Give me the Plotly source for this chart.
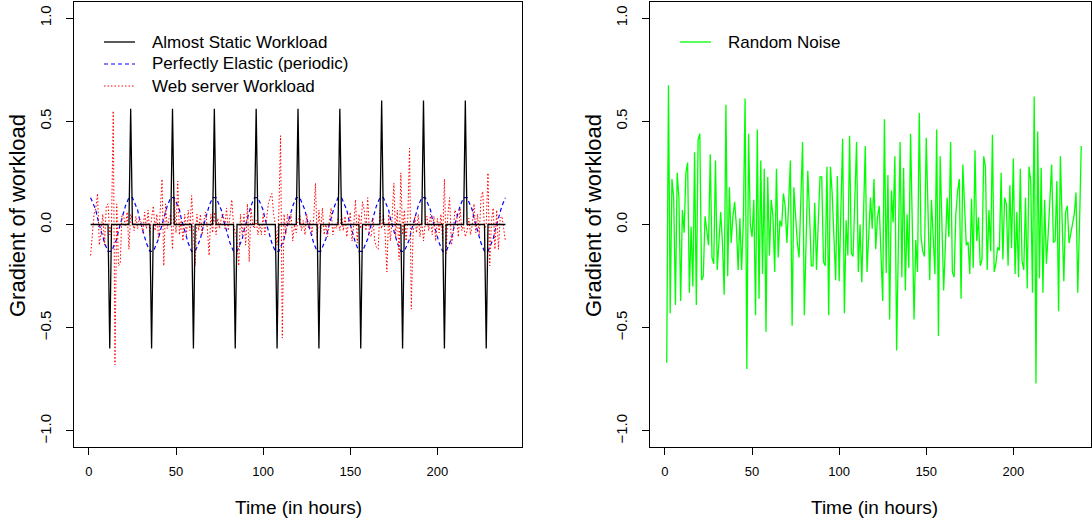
import plotly.graph_objects as go

# ---------------- data ----------------
hours = list(range(1, 240))

# Almost static workload: zero gradient except single-hour spikes
static_spike_hours = [12, 24, 36, 48, 60, 72, 84, 96, 108, 120, 132, 144,
                      156, 168, 180, 192, 204, 216, 228]
static_spike_values = [-0.60, 0.56, -0.60, 0.56, -0.60, 0.56, -0.60, 0.56,
                       -0.60, 0.56, -0.60, 0.56, -0.60, 0.60, -0.60, 0.60,
                       -0.60, 0.60, -0.60]

# Perfectly elastic (periodic), hours 1..239
elastic_values = [
    0.13, 0.11, 0.09, 0.07, 0.03, 0.00, -0.03, -0.07, -0.09, -0.11, -0.13, -0.13, -0.13, -0.11, -0.09, -0.07, -0.03, 0.00, 0.03, 0.07, 0.09, 0.11, 0.13, 0.13,
    0.13, 0.11, 0.09, 0.07, 0.03, 0.00, -0.03, -0.07, -0.09, -0.11, -0.13, -0.13, -0.13, -0.11, -0.09, -0.07, -0.03, 0.00, 0.03, 0.07, 0.09, 0.11, 0.13, 0.13,
    0.13, 0.11, 0.09, 0.07, 0.03, 0.00, -0.03, -0.07, -0.09, -0.11, -0.13, -0.13, -0.13, -0.11, -0.09, -0.07, -0.03, 0.00, 0.03, 0.07, 0.09, 0.11, 0.13, 0.13,
    0.13, 0.11, 0.09, 0.07, 0.03, 0.00, -0.03, -0.07, -0.09, -0.11, -0.13, -0.13, -0.13, -0.11, -0.09, -0.07, -0.03, 0.00, 0.03, 0.07, 0.09, 0.11, 0.13, 0.13,
    0.13, 0.11, 0.09, 0.07, 0.03, 0.00, -0.03, -0.07, -0.09, -0.11, -0.13, -0.13, -0.13, -0.11, -0.09, -0.07, -0.03, 0.00, 0.03, 0.07, 0.09, 0.11, 0.13, 0.13,
    0.13, 0.11, 0.09, 0.07, 0.03, 0.00, -0.03, -0.07, -0.09, -0.11, -0.13, -0.13, -0.13, -0.11, -0.09, -0.07, -0.03, 0.00, 0.03, 0.07, 0.09, 0.11, 0.13, 0.13,
    0.13, 0.11, 0.09, 0.07, 0.03, 0.00, -0.03, -0.07, -0.09, -0.11, -0.13, -0.13, -0.13, -0.11, -0.09, -0.07, -0.03, 0.00, 0.03, 0.07, 0.09, 0.11, 0.13, 0.13,
    0.13, 0.11, 0.09, 0.07, 0.03, 0.00, -0.03, -0.07, -0.09, -0.11, -0.13, -0.13, -0.13, -0.11, -0.09, -0.07, -0.03, 0.00, 0.03, 0.07, 0.09, 0.11, 0.13, 0.13,
    0.13, 0.11, 0.09, 0.07, 0.03, 0.00, -0.03, -0.07, -0.09, -0.11, -0.13, -0.13, -0.13, -0.11, -0.09, -0.07, -0.03, 0.00, 0.03, 0.07, 0.09, 0.11, 0.13, 0.13,
    0.13, 0.11, 0.09, 0.07, 0.03, 0.00, -0.03, -0.07, -0.09, -0.11, -0.13, -0.13, -0.13, -0.11, -0.09, -0.07, -0.03, 0.00, 0.03, 0.07, 0.09, 0.11, 0.13,
]

# Web server workload, hours 1..239
web_values = [
    -0.15, -0.05, 0.05, 0.08, 0.15, -0.10, -0.04, 0.05, -0.10, 0.09, 0.10, -0.05, 0.00, 0.55, -0.68, 0.10, -0.20, -0.19, 0.05, 0.04,
    -0.01, 0.06, -0.12, 0.05, 0.02, -0.03, 0.04, -0.02, 0.03, 0.01, -0.04, 0.06, -0.02, 0.07, -0.05, 0.03, 0.09, -0.03, 0.05, -0.07,
    0.08, 0.22, -0.20, 0.10, -0.02, 0.03, 0.05, -0.12, 0.13, -0.04, 0.21, -0.05, 0.02, -0.08, 0.05, -0.05, 0.07, -0.03, 0.14, -0.05,
    -0.20, 0.05, -0.03, 0.05, -0.05, 0.02, 0.06, -0.02, -0.15, 0.05, -0.04, 0.06, -0.05, 0.03, -0.02, 0.03, 0.05, -0.02, 0.08, -0.03,
    0.05, 0.12, 0.00, -0.05, -0.08, -0.20, 0.05, -0.05, 0.05, -0.10, 0.10, -0.18, 0.08, 0.00, -0.02, 0.02, -0.05, 0.00, -0.05, 0.05,
    -0.05, 0.03, 0.10, 0.13, 0.15, 0.05, 0.00, -0.10, 0.05, 0.43, -0.55, 0.05, -0.05, 0.05, 0.00, 0.05, -0.08, 0.00, -0.04, 0.02,
    0.05, -0.03, 0.02, -0.05, 0.05, -0.02, 0.02, -0.05, 0.03, 0.20, -0.08, 0.07, -0.04, 0.08, -0.05, 0.00, -0.06, 0.02, 0.08, -0.05,
    0.00, -0.02, 0.03, -0.03, 0.05, -0.03, 0.04, -0.06, 0.02, 0.06, -0.08, 0.00, 0.12, -0.09, 0.05, -0.02, 0.11, 0.07, -0.03, 0.13,
    -0.05, -0.06, 0.03, -0.08, -0.11, -0.12, 0.07, -0.02, 0.05, -0.05, -0.23, 0.05, -0.08, 0.03, 0.20, -0.06, 0.07, -0.17, 0.25, -0.05,
    0.07, -0.08, 0.03, 0.37, -0.41, -0.05, 0.04, -0.04, 0.05, -0.06, 0.02, -0.08, 0.01, 0.04, -0.03, 0.05, -0.05, 0.04, -0.08, 0.03,
    -0.04, 0.05, -0.08, 0.22, -0.14, 0.05, 0.13, -0.10, -0.05, 0.07, 0.05, -0.06, 0.08, -0.03, 0.00, -0.06, -0.03, 0.03, -0.05, 0.00,
    0.10, -0.04, 0.05, -0.05, 0.13, 0.16, -0.03, 0.00, 0.25, -0.20, 0.02, 0.08, -0.12, 0.07, -0.12, 0.03, 0.04, -0.02, -0.08,
]

# Random noise, hours 1..239
noise_values = [
    -0.67, 0.675, -0.43, 0.22, 0.13, -0.39, 0.25, 0.13, -0.37, 0.07, -0.04, 0.25, 0.30, -0.33, -0.01, -0.30, 0.35, -0.39, 0.41, 0.44,
    -0.27, -0.25, 0.04, -0.03, -0.10, 0.34, -0.16, -0.19, 0.31, -0.22, -0.06, 0.06, -0.09, -0.34, 0.58, -0.25, 0.18, -0.09, 0.04, 0.11,
    -0.01, -0.22, 0.03, -0.22, 0.02, 0.61, -0.70, 0.44, 0.00, -0.06, 0.12, -0.44, 0.46, -0.36, 0.31, -0.24, 0.27, -0.52, 0.23, -0.15,
    0.12, 0.04, -0.23, 0.27, -0.16, 0.02, -0.01, 0.15, 0.09, -0.09, 0.10, 0.31, -0.49, 0.18, 0.04, -0.09, -0.16, 0.12, 0.40, -0.44,
    -0.09, 0.26, 0.05, -0.20, -0.20, 0.105, -0.22, 0.00, 0.23, 0.23, -0.18, -0.20, 0.28, -0.44, 0.28, 0.15, -0.05, -0.27, 0.235, -0.275,
    0.07, 0.415, -0.43, 0.02, -0.15, 0.43, -0.14, -0.155, 0.12, 0.40, -0.23, 0.00, -0.28, 0.05, 0.38, -0.23, -0.05, 0.13, -0.02, 0.22,
    -0.12, 0.035, 0.09, -0.10, -0.37, 0.51, -0.235, 0.24, -0.46, 0.165, 0.01, 0.33, -0.61, -0.10, 0.40, -0.255, 0.275, -0.32, 0.05, -0.21,
    0.44, 0.00, -0.46, -0.075, -0.23, 0.54, -0.06, -0.13, -0.155, 0.42, 0.10, -0.27, 0.12, -0.05, -0.24, 0.46, -0.54, 0.33, 0.00, -0.32,
    -0.10, 0.13, -0.06, 0.40, -0.23, -0.255, 0.05, 0.16, 0.22, -0.36, 0.29, 0.10, -0.10, -0.085, -0.24, 0.125, -0.21, 0.36, -0.08, 0.035,
    -0.20, -0.17, 0.33, 0.28, -0.22, 0.07, -0.13, 0.435, -0.23, -0.19, -0.11, -0.125, 0.25, -0.17, 0.13, 0.10, -0.20, 0.19, -0.115, 0.32,
    -0.24, 0.06, -0.255, 0.27, -0.175, -0.22, 0.13, -0.31, 0.28, 0.21, -0.33, 0.62, -0.77, 0.45, -0.26, 0.275, -0.33, 0.12, -0.19, -0.05,
    0.12, 0.29, -0.085, -0.08, 0.21, -0.42, 0.33, 0.03, -0.275, 0.06, 0.09, -0.09, -0.045, 0.00, 0.05, 0.155, -0.33, 0.00, 0.38,
]

x_tick_values = [0, 50, 100, 150, 200]
x_tick_labels = ["0", "50", "100", "150", "200"]
y_tick_values = [-1.0, -0.5, 0.0, 0.5, 1.0]
y_tick_labels = ["\u22121.0", "\u22120.5", "0.0", "0.5", "1.0"]

left_legend = ["Almost Static Workload", "Perfectly Elastic (periodic)", "Web server Workload"]
right_legend = ["Random Noise"]

static_values = [0.0] * len(hours)
for h, v in zip(static_spike_hours, static_spike_values):
    static_values[hours.index(h)] = v

# ---------------- figure ----------------
W, H = 1092, 521
FONT = "Liberation Sans, Arial, Helvetica, sans-serif"

def px_x(p):
    return p / W

def px_y(p):
    return 1 - p / H

fig = go.Figure()

fig.add_trace(go.Scatter(x=hours, y=elastic_values, mode="lines", xaxis="x", yaxis="y",
                         line=dict(color="blue", width=1.2, dash="4px,3px"),
                         name=left_legend[1], showlegend=False))
fig.add_trace(go.Scatter(x=hours, y=web_values, mode="lines", xaxis="x", yaxis="y",
                         line=dict(color="red", width=1, dash="1.5px,2px"),
                         name=left_legend[2], showlegend=False))
fig.add_trace(go.Scatter(x=hours, y=static_values, mode="lines", xaxis="x", yaxis="y",
                         line=dict(color="black", width=1.3),
                         name=left_legend[0], showlegend=False))
fig.add_trace(go.Scatter(x=hours, y=noise_values, mode="lines", xaxis="x2", yaxis="y2",
                         line=dict(color="#00ff00", width=1.3),
                         name=right_legend[0], showlegend=False))

box_top, box_bottom = 2, 447
left_l, left_r = 74, 522
right_l, right_r = 650, 1091

x_axis_common = dict(showline=True, linecolor="black", linewidth=1, mirror=True,
                     ticks="outside", ticklen=7, tickwidth=1, tickcolor="black",
                     showgrid=False, zeroline=False, ticklabelstandoff=5,
                     tickfont=dict(family=FONT, size=13, color="black"))
y_axis_common = dict(showline=True, linecolor="black", linewidth=1, mirror=True,
                     ticks="outside", ticklen=7, tickwidth=1, tickcolor="black",
                     showgrid=False, zeroline=False, tickangle=-90, ticklabelstandoff=9,
                     tickfont=dict(family=FONT, size=15, color="black"))

fig.update_layout(
    width=W, height=H,
    margin=dict(l=0, r=0, t=0, b=0),
    paper_bgcolor="white", plot_bgcolor="white",
    font=dict(family=FONT, color="black"),
    showlegend=False,
    xaxis=dict(domain=[px_x(left_l), px_x(left_r)], range=[-8.52, 248.52],
               tickvals=x_tick_values, ticktext=x_tick_labels, anchor="y", **x_axis_common),
    yaxis=dict(domain=[px_y(box_bottom), px_y(box_top)], range=[-1.0776, 1.0776],
               tickvals=y_tick_values, ticktext=y_tick_labels, anchor="x", **y_axis_common),
    xaxis2=dict(domain=[px_x(right_l), px_x(right_r)], range=[-8.6, 244.6],
                tickvals=x_tick_values, ticktext=x_tick_labels, anchor="y2", **x_axis_common),
    yaxis2=dict(domain=[px_y(box_bottom), px_y(box_top)], range=[-1.0776, 1.0776],
                tickvals=y_tick_values, ticktext=y_tick_labels, anchor="x2", **y_axis_common),
)

annotations = []
# axis titles
for cx in [(left_l + left_r) / 2, (right_l + 1098) / 2]:
    annotations.append(dict(text="Time (in hours)", xref="paper", yref="paper",
                            x=px_x(cx), y=px_y(507), xanchor="center", yanchor="middle",
                            showarrow=False, font=dict(family=FONT, size=19, color="black")))
for cx in [18, 594]:
    annotations.append(dict(text="Gradient of workload", xref="paper", yref="paper",
                            x=px_x(cx), y=px_y(216), xanchor="center", yanchor="middle",
                            textangle=-90, showarrow=False,
                            font=dict(family=FONT, size=22, color="black")))

# legends (drawn inside plot, no box, like R legend(bty="n"))
shapes = []
left_styles = [dict(color="black", width=1.3),
               dict(color="blue", width=1.2, dash="4px,3px"),
               dict(color="red", width=1, dash="1.5px,2px")]
for i, (label, st) in enumerate(zip(left_legend, left_styles)):
    yy = 42 + 22 * i
    shapes.append(dict(type="line", xref="paper", yref="paper",
                       x0=px_x(104), x1=px_x(135), y0=px_y(yy), y1=px_y(yy), line=st))
    annotations.append(dict(text=label, xref="paper", yref="paper", x=px_x(150), y=px_y(yy),
                            xanchor="left", yanchor="middle", showarrow=False,
                            font=dict(family=FONT, size=17, color="black")))
shapes.append(dict(type="line", xref="paper", yref="paper",
                   x0=px_x(680), x1=px_x(711), y0=px_y(42), y1=px_y(42),
                   line=dict(color="#00ff00", width=1.3)))
annotations.append(dict(text=right_legend[0], xref="paper", yref="paper", x=px_x(726), y=px_y(42),
                        xanchor="left", yanchor="middle", showarrow=False,
                        font=dict(family=FONT, size=17, color="black")))

fig.update_layout(annotations=annotations, shapes=shapes)

fig.write_html("out.html", config={"displayModeBar": False},
               post_script="document.body.style.margin='0px';document.body.style.overflow='hidden';")
